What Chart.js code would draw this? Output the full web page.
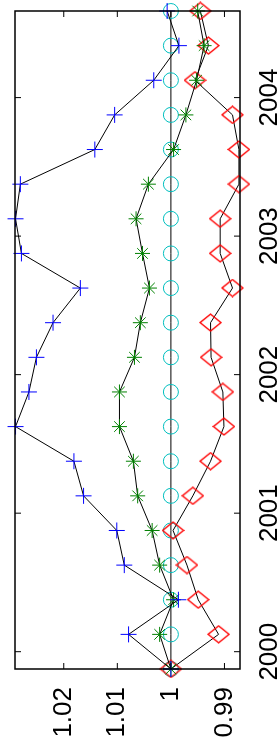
<!DOCTYPE html>
<html>
<head>
<meta charset="utf-8">
<script src="https://cdn.jsdelivr.net/npm/chart.js@4"></script>
<style>
  html, body { margin: 0; padding: 0; background: #fff; overflow: hidden; }
  #wrap {
    position: absolute; left: 0; top: 0;
    width: 740px; height: 277px;
    transform-origin: 0 0;
    transform: translate(0, 740px) rotate(-90deg);
  }
</style>
</head>
<body>
<div id="wrap"><canvas id="stats" width="740" height="277"></canvas></div>
<script>
// quarterly dates (decimal years)
var quarters = [1999.875, 2000.125, 2000.375, 2000.625, 2000.875, 2001.125, 2001.375, 2001.625,
                2001.875, 2002.125, 2002.375, 2002.625, 2002.875, 2003.125, 2003.375, 2003.625,
                2003.875, 2004.125, 2004.375, 2004.625];
var plusSeries = [1.0, 1.0079, 0.9986, 1.0087, 1.0101, 1.0163, 1.0181, 1.029, 1.0265, 1.0251,
                  1.022, 1.0169, 1.0279, 1.029, 1.0281, 1.0142, 1.0105, 1.0032, 0.9985, 1.0007];
var starSeries = [1.0, 1.0021, 0.9995, 1.0021, 1.0035, 1.0062, 1.0070, 1.0096, 1.0096, 1.0068,
                  1.0057, 1.0040, 1.0053, 1.0065, 1.0042, 0.9995, 0.9972, 0.9952, 0.9938, 0.9950];
var diamondSeries = [1.0, 0.9911, 0.9949, 0.9970, 0.9996, 0.9959, 0.9926, 0.9901, 0.9903, 0.9925,
                     0.9926, 0.9885, 0.9908, 0.9908, 0.9873, 0.9873, 0.9885, 0.9955, 0.9930, 0.9945];
var circleSeries = [1, 1, 1, 1, 1, 1, 1, 1, 1, 1, 1, 1, 1, 1, 1, 1, 1, 1, 1, 1];
var yearTicks = [2000, 2001, 2002, 2003, 2004];
var valueTicks = [0.99, 1, 1.01, 1.02];

function pts(ys) {
  return quarters.map((q, i) => ({x: q, y: ys[i]}));
}

// diamond marker, a bit taller than wide
function diamond() {
  var c = document.createElement('canvas');
  c.width = 19; c.height = 23;
  var g = c.getContext('2d');
  g.strokeStyle = 'rgb(255,0,0)';
  g.lineWidth = 1.3;
  g.beginPath();
  g.moveTo(9.5, 1); g.lineTo(18, 11.5); g.lineTo(9.5, 22); g.lineTo(1, 11.5); g.closePath();
  g.stroke();
  return c;
}

function series(ys, color, style, r) {
  return {
    data: pts(ys),
    borderColor: 'black',
    borderWidth: 1,
    pointStyle: style,
    pointRadius: r,
    pointBorderColor: color,
    pointBackgroundColor: 'rgba(0,0,0,0)',
    pointBorderWidth: 1,
    tension: 0,
    clip: false
  };
}

var boxPlugin = {
  id: 'box',
  afterDraw: function (chart) {
    var ctx = chart.ctx, a = chart.chartArea;
    var xs = chart.scales.x, ys = chart.scales.y;
    ctx.save();
    ctx.strokeStyle = 'black';
    ctx.lineWidth = 1.5;
    ctx.strokeRect(a.left, a.top, a.right - a.left, a.bottom - a.top);
    ctx.lineWidth = 1;
    ctx.beginPath();
    yearTicks.forEach(function (t) {
      var p = xs.getPixelForValue(t);
      ctx.moveTo(p, a.bottom); ctx.lineTo(p, a.bottom - 6);
      ctx.moveTo(p, a.top); ctx.lineTo(p, a.top + 6);
    });
    valueTicks.forEach(function (t) {
      var p = ys.getPixelForValue(t);
      ctx.moveTo(a.left, p); ctx.lineTo(a.left + 6, p);
      ctx.moveTo(a.right, p); ctx.lineTo(a.right - 6, p);
    });
    ctx.stroke();
    ctx.restore();
  }
};

new Chart("stats", {
  type: "line",
  data: {
    datasets: [
      series(plusSeries, 'rgb(0,0,255)', 'cross', 8),
      series(starSeries, 'rgb(0,128,0)', 'star', 7.5),
      series(diamondSeries, 'rgb(255,0,0)', diamond(), 10),
      series(circleSeries, 'rgb(0,191,191)', 'circle', 7.5)
    ]
  },
  options: {
    responsive: false,
    animation: false,
    devicePixelRatio: 1,
    layout: {padding: {top: 15, right: 9, left: 0, bottom: 0}},
    plugins: {legend: {display: false}, tooltip: {enabled: false}},
    scales: {
      x: {
        type: 'linear',
        min: 1999.875,
        max: 2004.625,
        grid: {display: false},
        border: {display: false},
        afterBuildTicks: function (s) { s.ticks = yearTicks.map(v => ({value: v})); },
        afterFit: function (s) { s.height = 37; s.paddingLeft = 0; s.paddingRight = 0; },
        ticks: {
          color: 'black',
          padding: 6,
          maxRotation: 0,
          font: {family: "'Liberation Sans', Arial, Helvetica", size: 26},
          callback: v => String(v)
        }
      },
      y: {
        type: 'linear',
        min: 0.9871,
        max: 1.0291,
        grid: {display: false},
        border: {display: false},
        afterBuildTicks: function (s) { s.ticks = valueTicks.map(v => ({value: v})); },
        afterFit: function (s) { s.width = 71; s.paddingTop = 0; s.paddingBottom = 0; },
        ticks: {
          color: 'black',
          padding: 10,
          font: {family: "'Liberation Sans', Arial, Helvetica", size: 26},
          callback: v => String(+v.toFixed(2))
        }
      }
    }
  },
  plugins: [boxPlugin]
});
</script>
</body>
</html>
